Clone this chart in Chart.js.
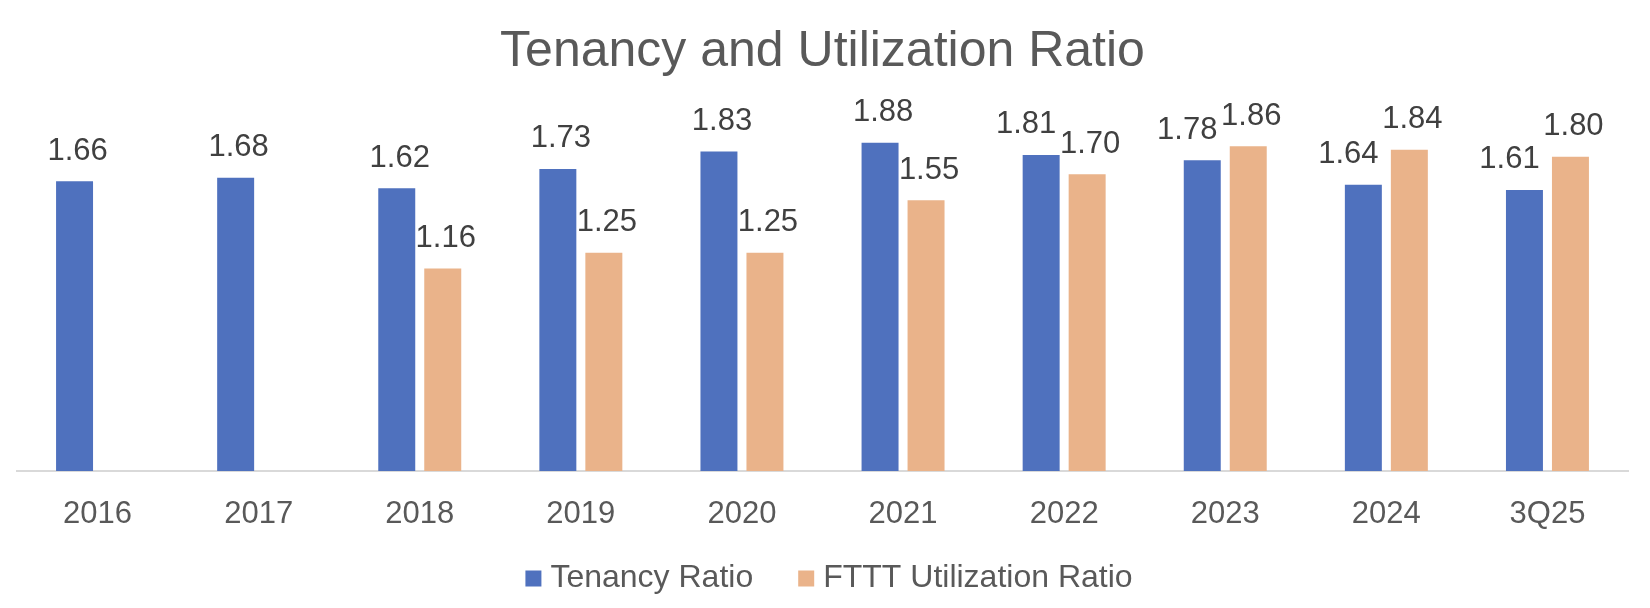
<!DOCTYPE html>
<html>
<head>
<meta charset="utf-8">
<title>Tenancy and Utilization Ratio</title>
<script src="https://cdn.jsdelivr.net/npm/chart.js@4.4.1/dist/chart.umd.min.js"></script>
<style>
	html, body { margin: 0; padding: 0; background: #ffffff; }
	#wrap { width: 1650px; height: 608px; }
</style>
</head>
<body>
<div id="wrap"><canvas id="chart"></canvas></div>
<script>
// chart data
const categories = ["2016", "2017", "2018", "2019", "2020", "2021", "2022", "2023", "2024", "3Q25"];
const tenancyRatio = [1.66, 1.68, 1.62, 1.73, 1.83, 1.88, 1.81, 1.78, 1.64, 1.61];
const utilizationRatio = [null, null, 1.16, 1.25, 1.25, 1.55, 1.70, 1.86, 1.84, 1.80];
const seriesNames = ["Tenancy Ratio", "FTTT Utilization Ratio"];
const yMin = 0;
const yMax = 2;

const FONT = "'Liberation Sans', Arial, Helvetica, sans-serif";
const _blue_ = "#4f71be";
const _orange_ = "#eab38a";
const _grey_ = "#595959";
const _darkGrey_ = "#404040";

Chart.defaults.font.family = FONT;
Chart.defaults.color = _grey_;

// values above the bars; a blue label moves left when it would run into its orange neighbour
const valueLabels = {
	id: "valueLabels",
	afterDatasetsDraw(chart) {
		const { ctx } = chart;
		const datasets = chart.data.datasets;

		ctx.save();
		ctx.font = "31px " + FONT;
		ctx.fillStyle = _darkGrey_;
		ctx.textAlign = "center";
		ctx.textBaseline = "alphabetic";

		datasets.forEach((dataset, di) => {
			const meta = chart.getDatasetMeta(di);
			meta.data.forEach((bar, i) => {
				const value = dataset.data[i];
				if (value == null) return;

				let x = bar.x + 3;
				if (di === 0 && datasets[1].data[i] != null) {
					const neighbour = chart.getDatasetMeta(1).data[i];
					if (Math.abs(neighbour.y - bar.y) < 45) x -= 18;
				}
				ctx.fillText(value.toFixed(2), x, bar.y - 21.5);
			});
		});
		ctx.restore();
	},
};

// the x axis is laid out short so the legend sits close; let its labels draw below that box,
// and nudge the legend a little right of centre like the original
const layoutTweaks = {
	id: "layoutTweaks",
	afterLayout(chart) {
		chart.scales.x.bottom = chart.height;
		chart.legend.left += 10;
		chart.legend.right += 10;
	},
};

new Chart(document.getElementById("chart"), {
	type: "bar",
	data: {
		labels: [...categories],
		datasets: [
			{
				label: seriesNames[0],
				data: [...tenancyRatio],
				backgroundColor: _blue_,
				borderWidth: 0,
			},
			{
				label: seriesNames[1],
				data: [...utilizationRatio],
				backgroundColor: _orange_,
				borderWidth: 0,
			},
		],
	},
	options: {
		responsive: true,
		maintainAspectRatio: false,
		animation: false,
		categoryPercentage: 0.571,
		barPercentage: 0.804,
		layout: {
			padding: { left: 17, right: 22, top: 0, bottom: 3.5 },
		},
		plugins: {
			title: {
				display: true,
				text: "Tenancy and Utilization Ratio",
				color: _grey_,
				font: { size: 50, weight: "normal" },
				padding: { top: 22, bottom: 39.8 },
			},
			legend: {
				position: "bottom",
				labels: {
					usePointStyle: true,
					pointStyle: "rect",
					boxWidth: 2,
					boxHeight: 16,
					padding: 52,
					color: _grey_,
					font: { size: 32 },
				},
			},
			tooltip: { enabled: false },
		},
		scales: {
			x: {
				grid: { display: false, drawTicks: false },
				border: { display: true, color: "#d9d9d9", width: 2 },
				ticks: { color: _grey_, font: { size: 31 }, padding: 25 },
				afterFit(scale) {
					scale.height = 39.5;
				},
			},
			y: {
				display: false,
				min: yMin,
				max: yMax,
			},
		},
	},
	plugins: [valueLabels, layoutTweaks],
});
</script>
</body>
</html>
